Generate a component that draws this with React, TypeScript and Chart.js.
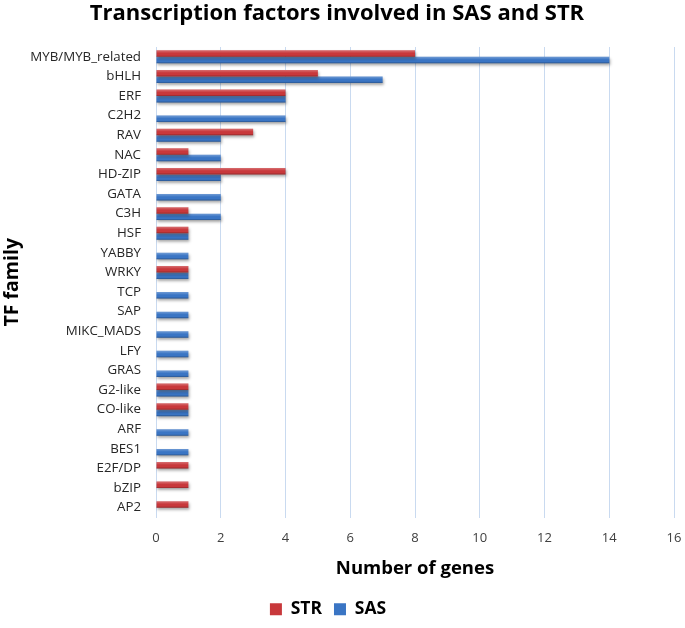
import React, { useEffect, useRef } from "react";
import { Chart, registerables } from "chart.js";

Chart.register(...registerables);

const families = [
  "MYB/MYB_related", "bHLH", "ERF", "C2H2", "RAV", "NAC", "HD-ZIP", "GATA", "C3H", "HSF",
  "YABBY", "WRKY", "TCP", "SAP", "MIKC_MADS", "LFY", "GRAS", "G2-like", "CO-like", "ARF",
  "BES1", "E2F/DP", "bZIP", "AP2",
];
const strValues = [8, 5, 4, 0, 3, 1, 4, 0, 1, 1, 0, 1, 0, 0, 0, 0, 0, 1, 1, 0, 0, 1, 1, 1];
const sasValues = [14, 7, 4, 4, 2, 2, 2, 2, 2, 1, 1, 1, 1, 1, 1, 1, 1, 1, 1, 1, 1, 0, 0, 0];
const xTickValues = [0, 2, 4, 6, 8, 10, 12, 14, 16];

const FONT = "'Open Sans', 'Liberation Sans', sans-serif";

const legendShift = {
  id: "legendShift",
  afterLayout(chart: any) {
    const lg = chart.legend;
    if (lg) {
      lg.left -= 9;
      lg.right -= 9;
    }
  },
};

const barShading = {
  id: "barShading",
  beforeDatasetDraw(chart: any) {
    const ctx = chart.ctx;
    ctx.save();
    ctx.shadowColor = "rgba(0,0,0,0.35)";
    ctx.shadowBlur = 3;
    ctx.shadowOffsetX = 1;
    ctx.shadowOffsetY = 2;
  },
  afterDatasetDraw(chart: any, args: any) {
    const ctx = chart.ctx;
    ctx.restore();
    const meta = args.meta;
    meta.data.forEach((el: any) => {
      const { x, y, base, height } = el.getProps(["x", "y", "base", "height"], true);
      if (Math.abs(x - base) < 0.5) return;
      const top = y - height / 2;
      const g = ctx.createLinearGradient(0, top, 0, top + height);
      g.addColorStop(0, "rgba(255,255,255,0.28)");
      g.addColorStop(0.45, "rgba(255,255,255,0.0)");
      g.addColorStop(0.75, "rgba(0,0,0,0.0)");
      g.addColorStop(1, "rgba(0,0,0,0.28)");
      ctx.save();
      ctx.fillStyle = g;
      ctx.fillRect(Math.min(x, base), top, Math.abs(x - base), height);
      ctx.restore();
    });
  },
};

export default function App() {
  const ref = useRef<HTMLCanvasElement>(null);
  useEffect(() => {
    if (!ref.current) return;
    const chart = new Chart(ref.current, {
      type: "bar",
      data: {
        labels: families,
        datasets: [
          {
            label: "STR",
            data: strValues,
            backgroundColor: "#C8383B",
            borderColor: "#A02629",
            borderWidth: 0,
            categoryPercentage: 0.66,
            barPercentage: 1.0,
          },
          {
            label: "SAS",
            data: sasValues,
            backgroundColor: "#3A75C4",
            borderColor: "#2A5896",
            borderWidth: 0,
            categoryPercentage: 0.66,
            barPercentage: 1.0,
          },
        ],
      },
      plugins: [legendShift, barShading],
      options: {
        indexAxis: "y",
        animation: false,
        responsive: false,
        maintainAspectRatio: false,
        layout: { padding: { left: 0, right: 11, top: 0, bottom: 0 } },
        plugins: {
          tooltip: { enabled: false },
          title: {
            display: true,
            text: "Transcription factors involved in SAS and STR",
            color: "#000",
            font: { family: FONT, size: 22, weight: "bold" },
            padding: { top: 1, bottom: 19.6 },
          },
          legend: {
            display: true,
            position: "bottom",
            labels: {
              color: "#000",
              font: { family: FONT, size: 17.5, weight: "bold" },
              boxWidth: 12,
              boxHeight: 12,
              padding: 12,
            },
          },
        },
        scales: {
          x: {
            type: "linear",
            min: 0,
            max: 16,
            afterBuildTicks: (scale: any) => {
              scale.ticks = xTickValues.map((v) => ({ value: v }));
            },
            ticks: {
              color: "#404040",
              font: { family: FONT, size: 13 },
              padding: 13,
            },
            grid: { color: "#C9DAF0", drawTicks: false, lineWidth: 1 },
            border: { display: false },
            title: {
              display: true,
              text: "Number of genes",
              color: "#000",
              font: { family: FONT, size: 18.5, weight: "bold" },
              padding: { top: 0, bottom: 9 },
            },
            afterFit: (scale: any) => {
              scale.height = 71;
              scale.paddingRight = 0;
              scale.paddingLeft = 0;
            },
          },
          y: {
            ticks: {
              autoSkip: false,
              color: "#262626",
              font: { family: FONT, size: 13.3 },
              padding: 15,
            },
            grid: { display: false, drawTicks: false },
            border: { display: true, color: "#C9DAF0" },
            title: {
              display: true,
              text: "TF family",
              color: "#000",
              font: { family: FONT, size: 19.5, weight: "bold" },
              padding: { top: 1, bottom: 0 },
            },
            afterFit: (scale: any) => {
              scale.width = 156;
            },
          },
        },
      },
    });
    return () => chart.destroy();
  }, []);
  return (
    <div style={{ position: "absolute", left: 0, top: 0, width: 685, height: 628, background: "#fff" }}>
      <canvas ref={ref} width={685} height={628} />
    </div>
  );
}
